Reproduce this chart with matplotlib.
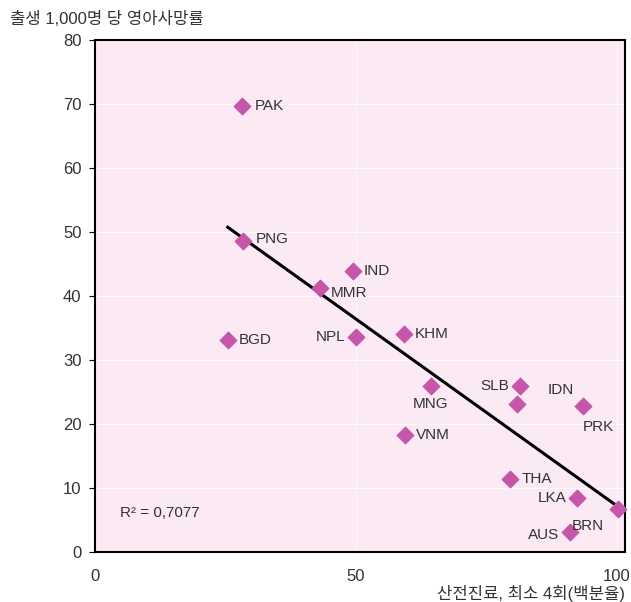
import matplotlib.pyplot as plt
import numpy as np

plt.rcParams['font.family'] = ['Liberation Sans', 'Noto Sans CJK KR']

# 국가별 값 (산전진료 4회 이상 %, 영아사망률)
codes = ["PAK", "PNG", "BGD", "IND", "MMR", "NPL", "KHM", "MNG", "SLB", "IDN",
         "PRK", "VNM", "THA", "LKA", "BRN", "AUS"]
prenatal = [28.1, 28.4, 25.4, 49.4, 43.1, 50.0, 59.2, 64.3, 81.5, 80.9,
            93.5, 59.4, 79.6, 92.4, 100.2, 91.0]
mortality = [69.7, 48.6, 33.1, 43.9, 41.3, 33.6, 34.1, 25.9, 25.9, 23.1,
             22.8, 18.3, 11.4, 8.4, 6.7, 3.1]

# 라벨 위치 (점 기준 오프셋, 포인트 단위)
offsets = {
    "PAK": (9, 0, "left", "center"), "PNG": (9, 1, "left", "center"),
    "BGD": (8, 0, "left", "center"), "IND": (8, 0, "left", "center"),
    "MMR": (8, -4, "left", "center"), "NPL": (-8, 0, "right", "center"),
    "KHM": (8, 0, "left", "center"), "MNG": (0, -13, "center", "center"),
    "SLB": (-8, 0, "right", "center"), "IDN": (22, 10, "left", "center"),
    "PRK": (0, -15, "left", "center"), "VNM": (8, 0, "left", "center"),
    "THA": (8, 0, "left", "center"), "LKA": (-8, 0, "right", "center"),
    "BRN": (-10, -12, "right", "center"), "AUS": (-8, -2, "right", "center"),
}

fig = plt.figure(figsize=(6.31, 6.02), dpi=100)
ax = fig.add_axes([0.151, 0.083, 0.839, 0.851])
ax.set_facecolor("#fbe9f3")

ax.set_xlim(0, 101.5)
ax.set_ylim(0, 80)
ax.set_xticks([0, 50, 100])
ax.set_yticks(range(0, 81, 10))
ax.grid(True, color="white", linewidth=0.8, alpha=0.8)
ax.set_axisbelow(True)
ax.tick_params(axis="y", direction="out", length=4, labelsize=12, pad=6,
               labelcolor="#333333")
ax.tick_params(axis="x", length=0, labelsize=12, pad=12, labelcolor="#333333")
for s in ax.spines.values():
    s.set_linewidth(1.5)

# 추세선
coef = np.polyfit(prenatal, mortality, 1)
xs = np.array([min(prenatal), max(prenatal)])
ax.plot(xs, np.polyval(coef, xs), color="black", linewidth=2.2, zorder=2)

ax.scatter(prenatal, mortality, marker="D", s=70, color="#c656aa", zorder=3,
           clip_on=False)

for c, x, y in zip(codes, prenatal, mortality):
    dx, dy, ha, va = offsets[c]
    ax.annotate(c, (x, y), xytext=(dx, dy), textcoords="offset points",
                ha=ha, va=va, fontsize=11, color="#333333")

ax.text(4.8, 6.1, "R² = 0,7077", fontsize=11, color="#333333", va="center")

fig.text(0.016, 0.968, "출생 1,000명 당 영아사망률", fontsize=12, color="#333333",
         va="center", ha="left")
fig.text(0.99, 0.014, "산전진료, 최소 4회(백분율)", fontsize=12, color="#333333",
         va="center", ha="right")

fig.savefig("out.png", dpi=100)
